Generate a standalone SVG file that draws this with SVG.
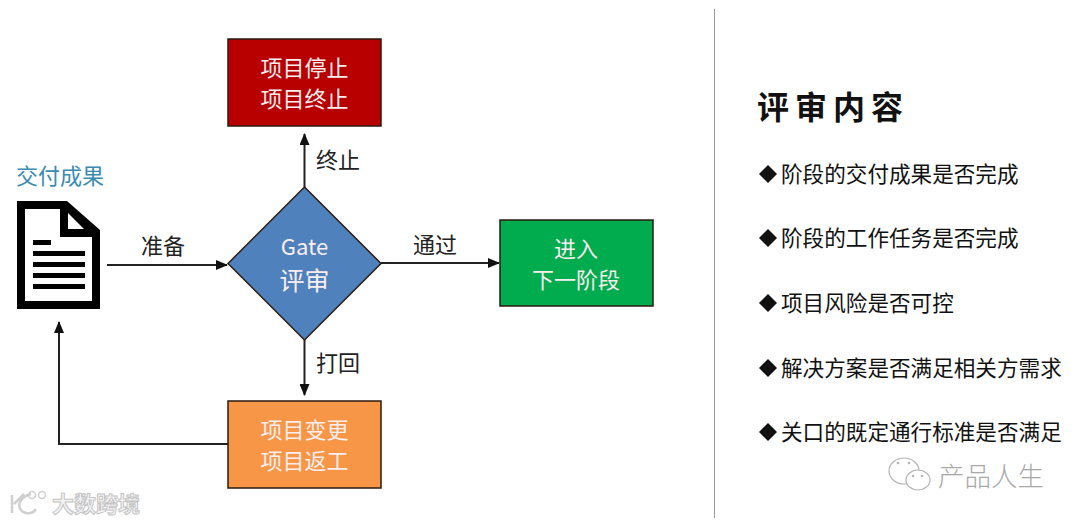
<svg xmlns="http://www.w3.org/2000/svg" width="1080" height="524" viewBox="0 0 1080 524">
<style>
text{font-family:"Noto Sans CJK SC","Noto Sans",sans-serif}
.box{stroke:#2b1a10;stroke-width:1.5}
.w{fill:#fbeeee;font-size:22px;text-anchor:middle}
.l{fill:#222;font-size:22px;text-anchor:middle}
.i{fill:#111;font-size:21.6px}
.b{fill:#111}
.c{fill:none;stroke:#222;stroke-width:2}
.e{fill:#fff;stroke:#b4b4b4;stroke-width:1.2}
.d{fill:#b4b4b4}
</style>
<defs><marker id="a" markerWidth="12" markerHeight="10" refX="11" refY="5" orient="auto" markerUnits="userSpaceOnUse"><path d="M0 0L12 5L0 10Z" fill="#111"/></marker></defs>
<rect width="1080" height="524" fill="#fff"/>
<g id="connectors">
<path class="c" marker-end="url(#a)" d="M107 265H227"/>
<path class="c" marker-end="url(#a)" d="M304.500 187V134"/>
<path class="c" marker-end="url(#a)" d="M381 263H499"/>
<path class="c" marker-end="url(#a)" d="M304.500 340V395"/>
<path class="c" marker-end="url(#a)" d="M228 444H59V322"/>
<path d="M714.500 9V518" stroke="#999" stroke-width="1" fill="none"/>
</g>
<g id="doc">
<text x="60" y="184" font-size="22" fill="#3a8bb0" text-anchor="middle">交付成果</text>
<path d="M17 201H67L100 230V309H17Z M25 209V301H92V237H60V209Z M68 213V229H84Z" fill="#000" fill-rule="evenodd"/>
<path d="M33 240H51V245H33ZM33 251H85V256H33ZM33 262H85V267H33ZM33 273H85V278H33ZM33 284H85V289H33Z" fill="#000"/>
</g>
<g id="stop"><rect class="box" x="228" y="39" width="153" height="87" fill="#b80000"/><text class="w" x="304.500" y="76">项目停止</text><text class="w" x="304.500" y="107">项目终止</text></g>
<g id="gate"><path class="box" d="M304.500 187L381 263.500L304.500 340L228 263.500Z" fill="#4f81bd"/><text class="w" x="304.500" y="255" style="font-size:22px">Gate</text><text class="w" x="304.500" y="290" style="font-size:25px">评审</text></g>
<g id="next"><rect class="box" x="500" y="220" width="153" height="86" fill="#00ac4e"/><text class="w" x="576" y="257">进入</text><text class="w" x="576" y="288">下一阶段</text></g>
<g id="change"><rect class="box" x="228" y="401" width="153" height="87" fill="#f79646"/><text class="w" x="304.500" y="438">项目变更</text><text class="w" x="304.500" y="469">项目返工</text></g>
<g id="labels">
<text class="l" x="163" y="254">准备</text>
<text class="l" x="338" y="168">终止</text>
<text class="l" x="435" y="253">通过</text>
<text class="l" x="338" y="371">打回</text>
</g>
<g id="review">
<text x="757" y="119" font-size="32" font-weight="700" letter-spacing="6" fill="#111">评审内容</text>
<path class="b" d="M768 165L777 174L768 183L759 174Z"/><text class="i" x="781" y="182">阶段的交付成果是否完成</text>
<path class="b" d="M768 229L777 238L768 247L759 238Z"/><text class="i" x="781" y="246">阶段的工作任务是否完成</text>
<path class="b" d="M768 294L777 303L768 312L759 303Z"/><text class="i" x="781" y="311">项目风险是否可控</text>
<path class="b" d="M768 359L777 368L768 377L759 368Z"/><text class="i" x="781" y="376">解决方案是否满足相关方需求</text>
<path class="b" d="M768 423L777 432L768 441L759 432Z"/><text class="i" x="781" y="440">关口的既定通行标准是否满足</text>
</g>
<g id="watermarks">
<text x="52" y="512" font-size="22" fill="#f4f4f4" stroke="#c4c4c4" stroke-width="1" font-weight="700">大数跨境</text>
<path d="M12 495V513M31 494C20 497 17 505 21 510C25 515 33 514 36 509M14 504L24 494" fill="none" stroke="#d0d0d0" stroke-width="2.500"/>
<circle cx="32" cy="495" r="3.500" fill="none" stroke="#d0d0d0" stroke-width="1.500"/><circle cx="42" cy="495" r="3.500" fill="none" stroke="#d0d0d0" stroke-width="1.500"/>
<text x="938" y="486" font-size="26.500" font-weight="300" fill="#a8a8a8">产品人生</text>
<ellipse class="e" cx="904" cy="471" rx="15" ry="13"/><circle class="d" cx="898" cy="463" r="1.300"/><circle class="d" cx="909" cy="463" r="1.300"/>
<ellipse class="e" cx="918" cy="480" rx="12" ry="10"/><circle class="d" cx="913" cy="476" r="1.300"/><circle class="d" cx="922" cy="476" r="1.300"/>
</g>
</svg>
